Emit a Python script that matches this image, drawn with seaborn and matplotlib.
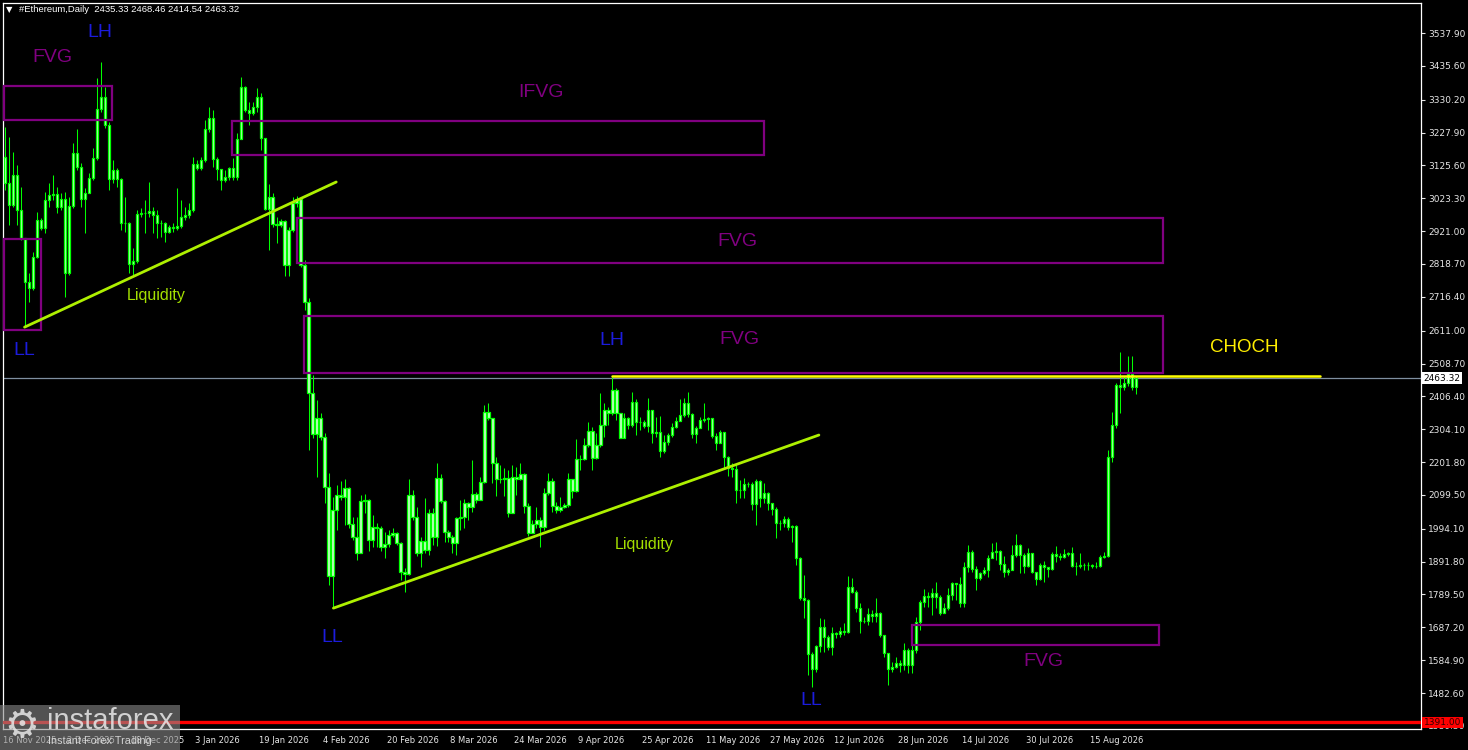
import numpy as np
import pandas as pd
import matplotlib
matplotlib.use("Agg")
import matplotlib.pyplot as plt
from matplotlib.patches import Rectangle
import seaborn as sns

# ─────────────────────────────────────────
#  DATA  (ETH daily candles, 17 Nov 2025 -> 27 Aug 2026)
# ─────────────────────────────────────────
first_open = 3153

closes = [
    3070, 3002, 3096, 2987, 2899, 2764, 2743, 2841, 2956, 2930,
    3018, 3034, 3037, 2997, 3020, 2790, 2999, 3165, 3122, 3020,
    3041, 3086, 3148, 3300, 3340, 3251, 3082, 3111, 3082, 2945,
    2947, 2819, 2829, 2974, 2978, 2977, 2985, 2971, 2947, 2945,
    2919, 2933, 2932, 2937, 2964, 2971, 2987, 3130, 3117, 3142,
    3238, 3272, 3145, 3113, 3080, 3090, 3117, 3089, 3207, 3371,
    3298, 3290, 3308, 3338, 3210, 2989, 3028, 2943, 2939, 2952,
    2815, 2924, 3008, 3020, 2815, 2701, 2416, 2288, 2338, 2281,
    2123, 1847, 2053, 2099, 2094, 2120, 2009, 1969, 1920, 2082,
    2084, 1959, 1999, 1996, 1938, 1947, 1975, 1980, 1949, 1860,
    1853, 2098, 2030, 1920, 1957, 1928, 2042, 1968, 2151, 2081,
    1983, 1969, 1951, 2027, 2030, 2073, 2061, 2102, 2084, 2140,
    2359, 2338, 2200, 2148, 2148, 2151, 2044, 2156, 2148, 2164,
    2065, 1982, 2009, 2021, 2001, 2105, 2143, 2065, 2053, 2063,
    2068, 2148, 2113, 2210, 2212, 2255, 2299, 2214, 2255, 2317,
    2364, 2354, 2426, 2354, 2278, 2338, 2317, 2390, 2326, 2328,
    2314, 2364, 2291, 2296, 2237, 2265, 2286, 2312, 2331, 2348,
    2385, 2351, 2288, 2307, 2333, 2335, 2338, 2283, 2262, 2296,
    2217, 2182, 2180, 2115, 2115, 2133, 2133, 2070, 2143, 2089,
    2105, 2073, 2056, 2011, 2013, 2024, 2001, 2003, 1902, 1778,
    1772, 1603, 1557, 1629, 1687, 1658, 1627, 1669, 1666, 1677,
    1674, 1814, 1798, 1747, 1707, 1708, 1729, 1723, 1733, 1663,
    1608, 1557, 1565, 1575, 1570, 1617, 1570, 1617, 1705, 1767,
    1785, 1783, 1793, 1783, 1733, 1747, 1788, 1824, 1821, 1764,
    1874, 1922, 1870, 1840, 1855, 1866, 1902, 1922, 1924, 1884,
    1859, 1866, 1912, 1943, 1912, 1879, 1918, 1859, 1837, 1880,
    1876, 1868, 1915, 1909, 1907, 1916, 1918, 1878, 1878, 1881,
    1881, 1880, 1878, 1879, 1905, 1909, 2219, 2317, 2442, 2437,
    2447, 2476, 2435.33, 2463.32,
]

highs = [
    3246, 3215, 3168, 3127, 3059, 2900, 2791, 2857, 2982, 2962,
    3044, 3070, 3096, 3059, 3040, 3044, 3028, 3194, 3238, 3133,
    3055, 3102, 3180, 3397, 3449, 3371, 3262, 3142, 3118, 3086,
    3028, 2950, 2868, 2987, 2992, 3018, 3075, 2997, 2987, 2956,
    2950, 2940, 2945, 3054, 3018, 2997, 3008, 3151, 3142, 3153,
    3267, 3308, 3298, 3153, 3106, 3111, 3122, 3148, 3226, 3402,
    3373, 3324, 3324, 3366, 3350, 3210, 3068, 3039, 2966, 2958,
    2956, 2935, 3028, 3030, 3028, 2830, 2713, 2473, 2395, 2356,
    2291, 2167, 2094, 2130, 2144, 2148, 2123, 2032, 2032, 2099,
    2102, 2086, 2037, 2011, 2003, 1985, 1990, 1996, 1985, 1954,
    1871, 2148, 2115, 2061, 1969, 2089, 2055, 2058, 2198, 2165,
    2084, 1990, 1975, 2032, 2084, 2086, 2078, 2208, 2110, 2156,
    2380, 2385, 2338, 2219, 2193, 2182, 2177, 2193, 2187, 2198,
    2167, 2075, 2021, 2063, 2032, 2120, 2169, 2151, 2078, 2094,
    2073, 2167, 2146, 2273, 2224, 2276, 2328, 2312, 2291, 2418,
    2385, 2372, 2466, 2432, 2354, 2354, 2343, 2421, 2397, 2343,
    2333, 2400, 2364, 2343, 2345, 2286, 2291, 2323, 2343, 2397,
    2400, 2421, 2354, 2314, 2343, 2385, 2343, 2338, 2291, 2302,
    2296, 2221, 2198, 2193, 2146, 2151, 2141, 2141, 2148, 2146,
    2136, 2110, 2075, 2061, 2021, 2034, 2032, 2006, 2006, 1907,
    1850, 1775, 1611, 1632, 1715, 1712, 1663, 1689, 1674, 1689,
    1700, 1847, 1840, 1803, 1762, 1720, 1747, 1741, 1778, 1736,
    1653, 1606, 1580, 1596, 1586, 1638, 1622, 1653, 1720, 1772,
    1806, 1798, 1809, 1829, 1788, 1762, 1809, 1829, 1826, 1843,
    1892, 1944, 1928, 1878, 1860, 1876, 1912, 1949, 1954, 1928,
    1909, 1871, 1944, 1978, 1947, 1918, 1933, 1918, 1855, 1887,
    1895, 1876, 1923, 1941, 1918, 1930, 1923, 1936, 1892, 1918,
    1889, 1892, 1884, 1892, 1912, 1922, 2239, 2359, 2449, 2546,
    2468, 2532, 2532, 2468.46,
]

lows = [
    3049, 2940, 2997, 2940, 2893, 2623, 2701, 2738, 2837, 2924,
    2915, 2997, 3018, 2977, 2987, 2717, 2784, 2993, 3111, 2997,
    2915, 3040, 3080, 3142, 3293, 3242, 3049, 3070, 3059, 2924,
    2919, 2790, 2784, 2821, 2966, 2915, 2966, 2915, 2899, 2904,
    2888, 2915, 2919, 2924, 2930, 2956, 2961, 2982, 3111, 3111,
    3137, 3231, 3122, 3080, 3049, 3075, 3080, 3080, 3080, 3207,
    3293, 3251, 3283, 3293, 3174, 2987, 2862, 2935, 2883, 2935,
    2781, 2781, 2919, 2997, 2810, 2675, 2239, 2276, 2156, 2271,
    2073, 1819, 1747, 1990, 2084, 2006, 1996, 1959, 1897, 1918,
    2044, 1926, 1938, 1938, 1926, 1902, 1938, 1969, 1944, 1835,
    1798, 1850, 2021, 1909, 1876, 1918, 1912, 1944, 1941, 2073,
    1954, 1954, 1918, 1912, 1990, 1996, 2021, 2047, 2073, 2084,
    2136, 2333, 2136, 2096, 2136, 2096, 2032, 2042, 2099, 2146,
    2042, 1972, 1990, 1996, 1936, 1990, 2099, 2047, 2044, 2047,
    2058, 2063, 2089, 2110, 2177, 2208, 2250, 2177, 2210, 2250,
    2281, 2317, 2348, 2333, 2276, 2276, 2304, 2312, 2286, 2302,
    2307, 2296, 2262, 2281, 2219, 2231, 2255, 2281, 2307, 2331,
    2343, 2343, 2276, 2262, 2307, 2328, 2302, 2276, 2239, 2260,
    2182, 2158, 2156, 2075, 2089, 2089, 2125, 2053, 2006, 2063,
    2073, 2053, 2037, 1964, 1990, 2001, 1990, 1954, 1881, 1772,
    1715, 1539, 1502, 1549, 1611, 1611, 1617, 1601, 1653, 1658,
    1663, 1669, 1793, 1736, 1669, 1700, 1694, 1705, 1705, 1658,
    1596, 1508, 1549, 1560, 1549, 1554, 1544, 1544, 1606, 1679,
    1751, 1751, 1726, 1747, 1726, 1736, 1741, 1772, 1772, 1751,
    1751, 1860, 1860, 1803, 1835, 1850, 1843, 1902, 1897, 1866,
    1845, 1850, 1866, 1905, 1855, 1855, 1876, 1855, 1819, 1835,
    1829, 1845, 1866, 1892, 1897, 1902, 1909, 1876, 1850, 1871,
    1866, 1866, 1871, 1873, 1876, 1902, 1907, 2203, 2307, 2354,
    2426, 2440, 2425, 2414.54,
]

first_date = "2025-11-17"

date_labels = ["16 Nov 2025", "2 Dec 2025", "18 Dec 2025", "3 Jan 2026",
               "19 Jan 2026", "4 Feb 2026", "20 Feb 2026", "8 Mar 2026",
               "24 Mar 2026", "9 Apr 2026", "25 Apr 2026", "11 May 2026",
               "27 May 2026", "12 Jun 2026", "28 Jun 2026", "14 Jul 2026",
               "30 Jul 2026", "15 Aug 2026"]

price_ticks = [3537.90, 3435.60, 3330.20, 3227.90, 3125.60, 3023.30,
               2921.00, 2818.70, 2716.40, 2611.00, 2508.70, 2406.40,
               2304.10, 2201.80, 2099.50, 1994.10, 1891.80, 1789.50,
               1687.20, 1584.90, 1482.60, 1380.30]

last_price = 2463.32
support_price = 1391.00

# analysis drawings: (bar_start, bar_end, price_top, price_bottom)
fvg_boxes = [
    (-0.2, 26.9, 3373, 3267),
    (-0.2, 9.0, 2896, 2613),
    (56.9, 189.9, 3264, 3158),
    (73.2, 289.9, 2962, 2822),
    (74.9, 289.9, 2657, 2479),
    (226.9, 288.9, 1694, 1632),
]
liq1_bars = [4.9, 82.9]
liq1_prices = [2622, 3074]
liq2_bars = [82.2, 203.7]
liq2_prices = [1747, 2286]
choch_bars = [152, 329.2]
choch_prices = [2469.5, 2469.5]

# labels: (text, bar, price, kind)
labels = [
    ("FVG", 11.9, 3463, "fvg"), ("LH", 23.7, 3541, "swing"),
    ("IFVG", 134.2, 3354, "fvg"), ("FVG", 183.2, 2890, "fvg"),
    ("FVG", 183.9, 2585, "fvg"), ("LH", 151.9, 2579, "swing"),
    ("LL", 4.7, 2548, "swing"), ("Liquidity", 37.9, 2719, "liq"),
    ("Liquidity", 159.9, 1944, "liq"), ("LL", 81.9, 1657, "swing"),
    ("LL", 201.7, 1458, "swing"), ("FVG", 259.9, 1582, "fvg"),
    ("CHOCH", 310.2, 2560, "choch"),
]

# ─────────────────────────────────────────
#  STYLE
# ─────────────────────────────────────────
LIME   = "#00ff00"
LIQ    = "#aef000"
PURPLE = "#800080"
BLUE   = "#1c1cdc"
YELLOW = "#ffff00"
AXCOL  = "#e6e6e6"

sns.set_theme(style="dark", rc={
    "axes.facecolor": "black",
    "figure.facecolor": "black",
    "axes.edgecolor": "white",
    "text.color": AXCOL,
    "xtick.color": AXCOL,
    "ytick.color": AXCOL,
})
plt.rcParams["font.family"] = ["DejaVu Sans"]

text_style = {
    "fvg":   dict(color=PURPLE, fontsize=14),
    "swing": dict(color=BLUE, fontsize=14),
    "liq":   dict(color="#a4e000", fontsize=11.5),
    "choch": dict(color="#ffee00", fontsize=13.5),
}

# ─────────────────────────────────────────
#  BUILD CANDLES
# ─────────────────────────────────────────
df = pd.DataFrame({"close": closes, "high": highs, "low": lows})
df["open"] = [first_open] + closes[:-1]
df["bar"] = np.arange(len(df))
body_lo = df[["open", "close"]].min(axis=1)
body_hi = df[["open", "close"]].max(axis=1)

W, H = 1468, 750
fig = plt.figure(figsize=(W / 100, H / 100), dpi=100)
ax = fig.add_axes([3 / W, 21 / H, 1418 / W, 726 / H])
ax.set_facecolor("black")

ax.set_xlim(-0.1, 354.4)
ax.set_ylim(1370.6, 3631.4)

ax.vlines(df["bar"], df["low"], df["high"], color=LIME, linewidth=0.75, zorder=3)
ax.bar(df["bar"], body_hi - body_lo, bottom=body_lo, width=0.6,
       color="#c4ffc4", edgecolor=LIME, linewidth=0.9, zorder=4)

# current price line and support line
ax.axhline(last_price, color="#7f8fa0", linewidth=0.9, zorder=2)
ax.axhline(support_price, color="#ff0000", linewidth=2.4, zorder=5)

# boxes
for x0, x1, top, bot in fvg_boxes:
    ax.add_patch(Rectangle((x0, bot), x1 - x0, top - bot, fill=False,
                           edgecolor=PURPLE, linewidth=1.6, zorder=6,
                           clip_on=False))

# trend / structure lines
sns.lineplot(x=liq1_bars, y=liq1_prices, ax=ax, color=LIQ, linewidth=2.0, zorder=7)
sns.lineplot(x=liq2_bars, y=liq2_prices, ax=ax, color=LIQ, linewidth=2.0, zorder=7)
sns.lineplot(x=choch_bars, y=choch_prices, ax=ax, color=YELLOW, linewidth=1.8, zorder=7)

for txt, bx, py, kind in labels:
    ax.text(bx, py, txt, ha="center", va="center", zorder=8,
            family=["Liberation Sans", "DejaVu Sans"], **text_style[kind])

# ─────────────────────────────────────────
#  AXES
# ─────────────────────────────────────────
for sp in ax.spines.values():
    sp.set_color("white")
    sp.set_linewidth(0.9)
    sp.set_visible(True)

ax.grid(False)
ax.yaxis.tick_right()
ax.set_yticks(price_ticks)
ax.set_yticklabels([f"{v:.2f}" for v in price_ticks])
ax.tick_params(axis="y", direction="out", length=3, width=0.8, colors=AXCOL,
               labelsize=6.5, pad=2)

tick_dates = pd.to_datetime(date_labels, format="%d %b %Y")
tick_pos = (tick_dates - pd.Timestamp(first_date)).days + 0.5
ax.set_xticks(tick_pos)
ax.set_xticklabels(date_labels)
for lab in ax.get_xticklabels():
    lab.set_horizontalalignment("left")
ax.tick_params(axis="x", direction="out", length=3, width=0.8, colors=AXCOL,
               labelsize=6, pad=2)
ax.set_xlabel("")
ax.set_ylabel("")

# price tags on the right scale
ax.text(1.002, last_price, f"{last_price:.2f}", transform=ax.get_yaxis_transform(),
        ha="left", va="center", fontsize=6.5, color="black", zorder=10,
        clip_on=False, bbox=dict(boxstyle="square,pad=0.15", fc="white", ec="none"))
ax.text(1.002, support_price, f"{support_price:.2f}", transform=ax.get_yaxis_transform(),
        ha="left", va="center", fontsize=6.5, color="#300000", zorder=10,
        clip_on=False, bbox=dict(boxstyle="square,pad=0.15", fc="#ff0000", ec="none"))

# header
fig.text(6 / W, 1 - 10 / H, "\u25bc", fontsize=6, color="white", va="center", ha="left")
fig.text(19 / W, 1 - 10 / H, "#Ethereum,Daily  2435.33 2468.46 2414.54 2463.32",
         fontsize=6.8, color="white", va="center", ha="left",
         family=["Liberation Sans", "DejaVu Sans"])

# watermark logo
logo = Rectangle((0, 0), 180 / W, 45 / H, transform=fig.transFigure,
                 facecolor="#8a8a8a", alpha=0.6, edgecolor="none", zorder=20)
fig.add_artist(logo)
fig.text(22 / W, 1 - 726 / H, "\u2699", fontsize=28, color="#e8e8e8", alpha=0.85,
         ha="center", va="center", zorder=21)
fig.text(47 / W, 1 - 721 / H, "instaforex", fontsize=21, color="#e8e8e8", alpha=0.85,
         ha="left", va="center", family=["Liberation Sans"], zorder=21)
fig.text(48 / W, 1 - 741 / H, "Instant Forex Trading", fontsize=7.8, color="#e8e8e8",
         alpha=0.85, ha="left", va="center", family=["Liberation Sans"], zorder=21)

fig.savefig("out.png", dpi=100, facecolor="black")
